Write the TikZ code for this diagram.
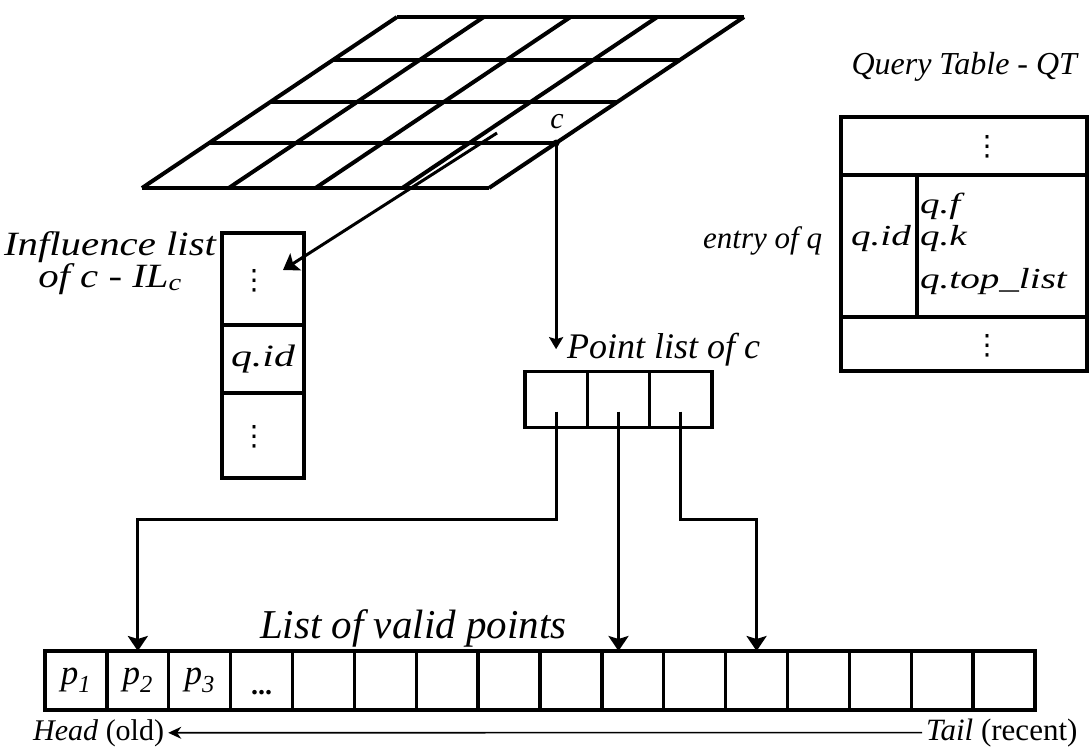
\documentclass[tikz,border=0pt]{standalone}
\usepackage{fontspec}
\setmainfont{Liberation Serif}
\newfontfamily\wideserif[FakeStretch=1.2]{Liberation Serif}
\newfontfamily\widerserif[FakeStretch=1.35]{Liberation Serif}
\newfontfamily\symfont{DejaVu Sans}
\usetikzlibrary{arrows.meta,calc}
\newcommand{\fs}[1]{\fontsize{#1}{#1}\selectfont}
\newcommand{\vdts}{{\symfont ⋮}}

\begin{document}
\begin{tikzpicture}[x=1pt,y=-1pt,
  box/.style={draw, line width=3.4pt, inner sep=0pt, outer sep=0pt},
  conn/.style={line width=3pt, -{Stealth[length=15pt,width=20pt,inset=3pt]}},
  smallconn/.style={line width=3pt, -{Stealth[length=12pt,width=14pt,inset=2pt]}},
  gridline/.style={line width=4pt},
  txt/.style={inner sep=0pt, outer sep=0pt},
  dots/.style={inner sep=0pt, font=\fs{28}}]
\useasboundingbox (0,0) rectangle (1089,748);

% ---- spatial grid (4 x 4 cells, drawn in perspective) ----
\foreach \y in {17,60,102,143,188} {
  \pgfmathsetmacro\xl{142+1.4912*(188-\y)}
  \draw[gridline] (\xl,\y) -- ++(347,0);
}
\foreach \k in {0,...,4}
  \draw[gridline] ({397+86.75*\k},17) -- ({142+86.75*\k},188);

\coordinate (c) at (556.1,143);
\fill (c) circle (3.5);
\node[txt, font=\fs{30}\itshape] (clbl) at (557,122) {c};
\coordinate (ilsrc) at (497,133);

% ---- influence list of cell c ----
\node[txt, anchor=base, font=\wideserif\fs{34}\itshape] (iltitleA) at (110,255) {Influence list};
\node[txt, anchor=base, font=\wideserif\fs{34}\itshape] (iltitleB) at (110,287) {of c - IL\textsubscript{c}};
\node[box, minimum width=82pt, minimum height=92pt] (il1) at (263,279) {};
\node[box, minimum width=82pt, minimum height=68pt, font=\widerserif\fs{31}\itshape] (il2) at (263,359) {q.id};
\node[box, minimum width=82pt, minimum height=85pt] (il3) at (263,435.5) {};
\node[dots] (ildA) at (254,281) {\vdts};
\node[dots] (ildB) at (254,437) {\vdts};

\draw[conn] (ilsrc) -- ([xshift=20pt,yshift=9pt]il1.center);

% ---- point list of cell c ----
\node[txt, anchor=base west, font=\fs{36}\itshape] (pltitle) at (567,358) {Point list of c};
\node[box, minimum width=62.33pt, minimum height=55.5pt] (pl1) at (556.2,399.5) {};
\node[box, minimum width=62.33pt, minimum height=55.5pt] (pl2) at (618.5,399.5) {};
\node[box, minimum width=62.33pt, minimum height=55.5pt] (pl3) at (680.8,399.5) {};

\draw[smallconn] (c) -- (c |- pltitle.west);

% ---- query table ----
\node[txt, anchor=base east, font=\fs{32}\itshape] (qttitle) at (1077,74) {Query Table - QT};
\node[box, minimum width=246pt, minimum height=58pt] (qt1) at (964,146) {};
\node[box, minimum width=76pt, minimum height=142pt] (qtid) at (879,246) {};
\node[box, minimum width=170pt, minimum height=142pt] (qtf) at (1002,246) {};
\node[box, minimum width=246pt, minimum height=54pt] (qt3) at (964,344) {};
\node[dots] (qtdA) at (987,147) {\vdts};
\node[dots] (qtdB) at (987,346) {\vdts};
\node[txt, anchor=base, font=\widerserif\fs{29}\itshape] (qtq) at (881,245) {q.id};
\node[txt, anchor=base west, font=\widerserif\fs{29}\itshape] (qf) at (920,213) {q.f};
\node[txt, anchor=base west, font=\widerserif\fs{29}\itshape] (qk) at (920,245) {q.k};
\node[txt, anchor=base west, font=\widerserif\fs{29}\itshape] (qtop) at (920,288) {q.top\_list};
\node[txt, anchor=base east, font=\fs{31}\itshape] (entry) at (822,248) {entry of q};

% ---- list of valid points ----
\node[txt, anchor=base west, font=\fs{41}\itshape] (vtitle) at (260,638) {List of valid points};
\foreach \i in {0,...,15}
  \node[box, minimum width=61.875pt, minimum height=59pt] (v\i) at ({45+61.875*(\i+0.5)},680.5) {};
\node[txt, font=\fs{35}\itshape] (p1) at (v0) {p\textsubscript{1}};
\node[txt, font=\fs{35}\itshape] (p2) at (v1) {p\textsubscript{2}};
\node[txt, font=\fs{35}\itshape] (p3) at (v2) {p\textsubscript{3}};
\node[txt, anchor=base, font=\fs{28}\bfseries] (pdots) at ([yshift=-14pt]v3.center) {...};

\draw[conn] ([yshift=-12pt]pl1.center) -- ++(0,108) -| (v1.north);
\draw[conn] ([yshift=-12pt]pl2.center) -- (pl2.center |- v9.north);
\draw[conn] ([yshift=-12pt]pl3.center) -- ++(0,108) -| (v11.north);

% ---- head / tail ----
\node[anchor=base west, inner ysep=0pt, inner xsep=4pt, font=\fs{30}] (head) at (29,740) {\textit{Head} (old)};
\node[anchor=base west, inner ysep=0pt, inner xsep=4pt, font=\fs{31}] (tail) at (922,740) {\textit{Tail} (recent)};
\draw[line width=1.6pt, -{Stealth[length=13pt,width=12pt]}] (tail.west) -- (head.east);
\end{tikzpicture}
\end{document}
